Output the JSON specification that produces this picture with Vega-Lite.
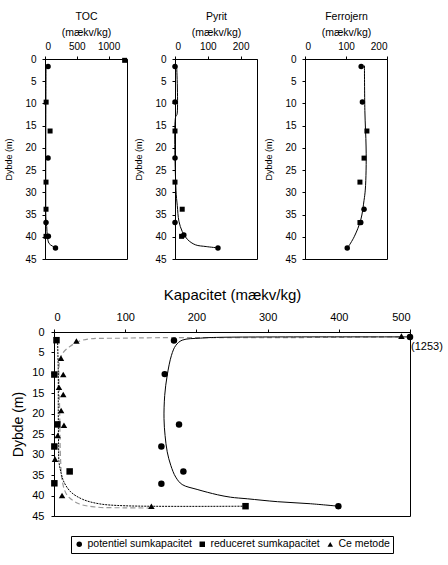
{
  "$schema": "https://vega.github.io/schema/vega-lite/v6.json",
  "padding": {"left": 4, "top": 10, "right": 2, "bottom": 2},
  "config": {
    "font": "Liberation Sans",
    "view": {"stroke": "black", "strokeWidth": 1},
    "axis": {
      "grid": false,
      "domainColor": "black",
      "tickColor": "black",
      "labelColor": "black",
      "titleColor": "black",
      "titleFontWeight": "normal",
      "labelFont": "Liberation Sans",
      "titleFont": "Liberation Sans"
    }
  },
  "datasets": {
    "topp": [
      {"analyse": "TOC", "dybde": 0.3, "v": 1253, "form": "firkant"},
      {"analyse": "TOC", "dybde": 1.7, "v": 48, "form": "cirkel"},
      {"analyse": "TOC", "dybde": 9.7, "v": 18, "form": "firkant"},
      {"analyse": "TOC", "dybde": 16.2, "v": 80, "form": "firkant"},
      {"analyse": "TOC", "dybde": 22.3, "v": 48, "form": "cirkel"},
      {"analyse": "TOC", "dybde": 27.7, "v": 16, "form": "firkant"},
      {"analyse": "TOC", "dybde": 33.8, "v": 16, "form": "firkant"},
      {"analyse": "TOC", "dybde": 36.8, "v": 16, "form": "cirkel"},
      {"analyse": "TOC", "dybde": 39.9, "v": 16, "form": "firkant"},
      {"analyse": "TOC", "dybde": 39.9, "v": 53, "form": "cirkel"},
      {"analyse": "TOC", "dybde": 42.5, "v": 165, "form": "cirkel"},
      {"analyse": "Pyrit", "dybde": 1.7, "v": 0, "form": "cirkel"},
      {"analyse": "Pyrit", "dybde": 9.7, "v": 0, "form": "cirkel"},
      {"analyse": "Pyrit", "dybde": 16.2, "v": 0, "form": "firkant"},
      {"analyse": "Pyrit", "dybde": 22.3, "v": 0, "form": "cirkel"},
      {"analyse": "Pyrit", "dybde": 27.7, "v": 0, "form": "firkant"},
      {"analyse": "Pyrit", "dybde": 33.8, "v": 22, "form": "firkant"},
      {"analyse": "Pyrit", "dybde": 36.8, "v": 0, "form": "cirkel"},
      {"analyse": "Pyrit", "dybde": 39.9, "v": 20, "form": "firkant"},
      {"analyse": "Pyrit", "dybde": 39.6, "v": 27, "form": "cirkel"},
      {"analyse": "Pyrit", "dybde": 42.5, "v": 131, "form": "cirkel"},
      {"analyse": "Ferrojern", "dybde": 1.7, "v": 137, "form": "cirkel"},
      {"analyse": "Ferrojern", "dybde": 9.7, "v": 140, "form": "cirkel"},
      {"analyse": "Ferrojern", "dybde": 16.2, "v": 151, "form": "firkant"},
      {"analyse": "Ferrojern", "dybde": 22.3, "v": 144, "form": "firkant"},
      {"analyse": "Ferrojern", "dybde": 27.7, "v": 134, "form": "firkant"},
      {"analyse": "Ferrojern", "dybde": 33.8, "v": 144, "form": "cirkel"},
      {"analyse": "Ferrojern", "dybde": 36.8, "v": 134, "form": "firkant"},
      {"analyse": "Ferrojern", "dybde": 36.8, "v": 136, "form": "cirkel"},
      {"analyse": "Ferrojern", "dybde": 42.5, "v": 103, "form": "cirkel"}
    ],
    "toppfit": [
      {"analyse": "TOC", "dybde": 1.3, "v": 16},
      {"analyse": "TOC", "dybde": 10, "v": 14},
      {"analyse": "TOC", "dybde": 20, "v": 12},
      {"analyse": "TOC", "dybde": 30, "v": 12},
      {"analyse": "TOC", "dybde": 36, "v": 15},
      {"analyse": "TOC", "dybde": 37.7, "v": 27},
      {"analyse": "TOC", "dybde": 39.9, "v": 37},
      {"analyse": "TOC", "dybde": 41.5, "v": 64},
      {"analyse": "TOC", "dybde": 42.1, "v": 117},
      {"analyse": "TOC", "dybde": 42.5, "v": 165},
      {"analyse": "Pyrit", "dybde": 1.5, "v": 5},
      {"analyse": "Pyrit", "dybde": 12.5, "v": 6},
      {"analyse": "Pyrit", "dybde": 13, "v": 2},
      {"analyse": "Pyrit", "dybde": 29.5, "v": 3},
      {"analyse": "Pyrit", "dybde": 33, "v": 7},
      {"analyse": "Pyrit", "dybde": 36.5, "v": 12},
      {"analyse": "Pyrit", "dybde": 38.8, "v": 22},
      {"analyse": "Pyrit", "dybde": 40.6, "v": 38},
      {"analyse": "Pyrit", "dybde": 41.8, "v": 62},
      {"analyse": "Pyrit", "dybde": 42.2, "v": 95},
      {"analyse": "Pyrit", "dybde": 42.5, "v": 131},
      {"analyse": "Ferrojern", "dybde": 1.5, "v": 145},
      {"analyse": "Ferrojern", "dybde": 11.6, "v": 146},
      {"analyse": "Ferrojern", "dybde": 19.8, "v": 149},
      {"analyse": "Ferrojern", "dybde": 25, "v": 149},
      {"analyse": "Ferrojern", "dybde": 29.5, "v": 147},
      {"analyse": "Ferrojern", "dybde": 31.8, "v": 144},
      {"analyse": "Ferrojern", "dybde": 36.2, "v": 136},
      {"analyse": "Ferrojern", "dybde": 40, "v": 120},
      {"analyse": "Ferrojern", "dybde": 42.2, "v": 106}
    ],
    "bund": [
      {"serie": "potentiel sumkapacitet", "dybde": 1.2, "v": 1253},
      {"serie": "potentiel sumkapacitet", "dybde": 2.1, "v": 168.5},
      {"serie": "potentiel sumkapacitet", "dybde": 10.3, "v": 155.5},
      {"serie": "potentiel sumkapacitet", "dybde": 22.6, "v": 175.6},
      {"serie": "potentiel sumkapacitet", "dybde": 28.0, "v": 150.8},
      {"serie": "potentiel sumkapacitet", "dybde": 34.1, "v": 181.7},
      {"serie": "potentiel sumkapacitet", "dybde": 37.1, "v": 150.8},
      {"serie": "potentiel sumkapacitet", "dybde": 42.6, "v": 399.4},
      {"serie": "reduceret sumkapacitet", "dybde": 2.0, "v": 3.5},
      {"serie": "reduceret sumkapacitet", "dybde": 10.4, "v": 0.5},
      {"serie": "reduceret sumkapacitet", "dybde": 22.6, "v": 4.7},
      {"serie": "reduceret sumkapacitet", "dybde": 28.0, "v": 0.5},
      {"serie": "reduceret sumkapacitet", "dybde": 34.1, "v": 22},
      {"serie": "reduceret sumkapacitet", "dybde": 37.0, "v": 0.5},
      {"serie": "reduceret sumkapacitet", "dybde": 42.6, "v": 269},
      {"serie": "Ce metode", "dybde": 1.0, "v": 488},
      {"serie": "Ce metode", "dybde": 2.2, "v": 31.5},
      {"serie": "Ce metode", "dybde": 6.4, "v": 9.8},
      {"serie": "Ce metode", "dybde": 10.4, "v": 13},
      {"serie": "Ce metode", "dybde": 13.5, "v": 7},
      {"serie": "Ce metode", "dybde": 15.3, "v": 13},
      {"serie": "Ce metode", "dybde": 19.2, "v": 10},
      {"serie": "Ce metode", "dybde": 22.8, "v": 14},
      {"serie": "Ce metode", "dybde": 25.3, "v": 5.2},
      {"serie": "Ce metode", "dybde": 31.1, "v": 1.4},
      {"serie": "Ce metode", "dybde": 40.0, "v": 11.3},
      {"serie": "Ce metode", "dybde": 42.6, "v": 136.8}
    ],
    "bundfit": [
      {"serie": "potentiel sumkapacitet", "dybde": 1.2, "v": 500},
      {"serie": "potentiel sumkapacitet", "dybde": 1.3, "v": 233},
      {"serie": "potentiel sumkapacitet", "dybde": 1.5, "v": 206},
      {"serie": "potentiel sumkapacitet", "dybde": 2.0, "v": 180},
      {"serie": "potentiel sumkapacitet", "dybde": 3.3, "v": 171},
      {"serie": "potentiel sumkapacitet", "dybde": 5.7, "v": 165},
      {"serie": "potentiel sumkapacitet", "dybde": 10.6, "v": 159},
      {"serie": "potentiel sumkapacitet", "dybde": 15.5, "v": 155.5},
      {"serie": "potentiel sumkapacitet", "dybde": 21.2, "v": 154.5},
      {"serie": "potentiel sumkapacitet", "dybde": 25.3, "v": 156},
      {"serie": "potentiel sumkapacitet", "dybde": 29.3, "v": 159},
      {"serie": "potentiel sumkapacitet", "dybde": 32.6, "v": 164},
      {"serie": "potentiel sumkapacitet", "dybde": 35.5, "v": 171},
      {"serie": "potentiel sumkapacitet", "dybde": 37.3, "v": 180},
      {"serie": "potentiel sumkapacitet", "dybde": 38.5, "v": 201},
      {"serie": "potentiel sumkapacitet", "dybde": 39.8, "v": 229.5},
      {"serie": "potentiel sumkapacitet", "dybde": 40.4, "v": 248},
      {"serie": "potentiel sumkapacitet", "dybde": 40.8, "v": 272},
      {"serie": "potentiel sumkapacitet", "dybde": 41.5, "v": 314},
      {"serie": "potentiel sumkapacitet", "dybde": 42.0, "v": 360},
      {"serie": "potentiel sumkapacitet", "dybde": 42.6, "v": 399.4},
      {"serie": "reduceret sumkapacitet", "dybde": 2.0, "v": 5},
      {"serie": "reduceret sumkapacitet", "dybde": 10, "v": 6},
      {"serie": "reduceret sumkapacitet", "dybde": 20, "v": 6},
      {"serie": "reduceret sumkapacitet", "dybde": 28, "v": 6.5},
      {"serie": "reduceret sumkapacitet", "dybde": 31.8, "v": 7},
      {"serie": "reduceret sumkapacitet", "dybde": 34.5, "v": 10},
      {"serie": "reduceret sumkapacitet", "dybde": 36.7, "v": 14},
      {"serie": "reduceret sumkapacitet", "dybde": 39.1, "v": 23.5},
      {"serie": "reduceret sumkapacitet", "dybde": 40.9, "v": 40},
      {"serie": "reduceret sumkapacitet", "dybde": 42.0, "v": 63},
      {"serie": "reduceret sumkapacitet", "dybde": 42.5, "v": 100},
      {"serie": "reduceret sumkapacitet", "dybde": 42.6, "v": 269},
      {"serie": "Ce metode", "dybde": 1.2, "v": 486},
      {"serie": "Ce metode", "dybde": 1.4, "v": 300},
      {"serie": "Ce metode", "dybde": 1.5, "v": 100},
      {"serie": "Ce metode", "dybde": 2.0, "v": 40},
      {"serie": "Ce metode", "dybde": 3.7, "v": 21},
      {"serie": "Ce metode", "dybde": 5.3, "v": 11.8},
      {"serie": "Ce metode", "dybde": 6.9, "v": 8},
      {"serie": "Ce metode", "dybde": 19.6, "v": 8},
      {"serie": "Ce metode", "dybde": 31.8, "v": 9.4},
      {"serie": "Ce metode", "dybde": 36.7, "v": 11.8},
      {"serie": "Ce metode", "dybde": 40.0, "v": 18.8},
      {"serie": "Ce metode", "dybde": 42.0, "v": 35},
      {"serie": "Ce metode", "dybde": 42.8, "v": 58.6},
      {"serie": "Ce metode", "dybde": 43.0, "v": 100},
      {"serie": "Ce metode", "dybde": 43.05, "v": 136.8}
    ]
  },
  "vconcat": [
    {
      "hconcat": [
        {
          "width": 82,
          "height": 200,
          "encoding": {
            "x": {"field": "v", "type": "quantitative", "scale": {"domain": [0, 1290], "nice": false},
              "axis": {"orient": "top", "values": [0, 500, 1000], "format": "d", "title": ["TOC", "(mækv/kg)"], "titleFontSize": 10.5, "titleLineHeight": 16, "titlePadding": 4, "labelFontSize": 10, "tickSize": 3, "labelPadding": 5}},
            "y": {"field": "dybde", "type": "quantitative", "scale": {"domain": [0, 45], "reverse": true, "nice": false},
              "axis": {"values": [0, 5, 10, 15, 20, 25, 30, 35, 40, 45], "title": "Dybde (m)", "titleFontSize": 9, "titlePadding": 11, "labelFontSize": 10, "tickSize": 3, "labelPadding": 6}}
          },
          "layer": [
            {"data": {"name": "toppfit"}, "transform": [{"filter": "datum.analyse == 'TOC'"}],
              "mark": {"type": "line", "color": "black", "strokeWidth": 1, "interpolate": "catmull-rom"},
              "encoding": {"order": {"field": "dybde", "type": "quantitative"}}},
            {"data": {"name": "topp"}, "transform": [{"filter": "datum.analyse == 'TOC' && datum.form == 'cirkel'"}],
              "mark": {"type": "point", "shape": "circle", "filled": true, "color": "black", "opacity": 1, "size": 30}},
            {"data": {"name": "topp"}, "transform": [{"filter": "datum.analyse == 'TOC' && datum.form == 'firkant'"}],
              "mark": {"type": "point", "shape": "square", "filled": true, "color": "black", "opacity": 1, "size": 25}}
          ]
        },
        {
          "width": 82,
          "height": 200,
          "encoding": {
            "x": {"field": "v", "type": "quantitative", "scale": {"domain": [0, 250], "nice": false},
              "axis": {"orient": "top", "values": [0, 100, 200], "title": ["Pyrit", "(mækv/kg)"], "titleFontSize": 10.5, "titleLineHeight": 16, "titlePadding": 4, "labelFontSize": 10, "tickSize": 3, "labelPadding": 5}},
            "y": {"field": "dybde", "type": "quantitative", "scale": {"domain": [0, 45], "reverse": true, "nice": false},
              "axis": {"values": [0, 5, 10, 15, 20, 25, 30, 35, 40, 45], "title": "Dybde (m)", "titleFontSize": 9, "titlePadding": 11, "labelFontSize": 10, "tickSize": 3, "labelPadding": 6}}
          },
          "layer": [
            {"data": {"name": "toppfit"}, "transform": [{"filter": "datum.analyse == 'Pyrit'"}],
              "mark": {"type": "line", "color": "black", "strokeWidth": 1, "interpolate": "catmull-rom"},
              "encoding": {"order": {"field": "dybde", "type": "quantitative"}}},
            {"data": {"name": "topp"}, "transform": [{"filter": "datum.analyse == 'Pyrit' && datum.form == 'cirkel'"}],
              "mark": {"type": "point", "shape": "circle", "filled": true, "color": "black", "opacity": 1, "size": 30}},
            {"data": {"name": "topp"}, "transform": [{"filter": "datum.analyse == 'Pyrit' && datum.form == 'firkant'"}],
              "mark": {"type": "point", "shape": "square", "filled": true, "color": "black", "opacity": 1, "size": 25}}
          ]
        },
        {
          "width": 82,
          "height": 200,
          "encoding": {
            "x": {"field": "v", "type": "quantitative", "scale": {"domain": [0, 200], "nice": false},
              "axis": {"orient": "top", "values": [0, 100, 200], "title": ["Ferrojern", "(mækv/kg)"], "titleFontSize": 10.5, "titleLineHeight": 16, "titlePadding": 4, "labelFontSize": 10, "tickSize": 3, "labelPadding": 5}},
            "y": {"field": "dybde", "type": "quantitative", "scale": {"domain": [0, 45], "reverse": true, "nice": false},
              "axis": {"values": [0, 5, 10, 15, 20, 25, 30, 35, 40, 45], "title": "Dybde (m)", "titleFontSize": 9, "titlePadding": 11, "labelFontSize": 10, "tickSize": 3, "labelPadding": 6}}
          },
          "layer": [
            {"data": {"name": "toppfit"}, "transform": [{"filter": "datum.analyse == 'Ferrojern'"}],
              "mark": {"type": "line", "color": "black", "strokeWidth": 1, "interpolate": "catmull-rom"},
              "encoding": {"order": {"field": "dybde", "type": "quantitative"}}},
            {"data": {"name": "topp"}, "transform": [{"filter": "datum.analyse == 'Ferrojern' && datum.form == 'cirkel'"}],
              "mark": {"type": "point", "shape": "circle", "filled": true, "color": "black", "opacity": 1, "size": 30}},
            {"data": {"name": "topp"}, "transform": [{"filter": "datum.analyse == 'Ferrojern' && datum.form == 'firkant'"}],
              "mark": {"type": "point", "shape": "square", "filled": true, "color": "black", "opacity": 1, "size": 25}}
          ]
        }
      ],
      "bounds": "flush",
      "spacing": 48
    },
    {
      "hconcat": [
        {
          "width": 1,
          "height": 1,
          "view": {"stroke": null},
          "data": {"values": [{}]},
          "mark": {"type": "text"},
          "encoding": {"text": {"value": ""}}
        },
        {
          "width": 356,
          "height": 184,
          "encoding": {
            "x": {"field": "v", "type": "quantitative", "scale": {"domain": [0, 500], "nice": false, "clamp": true},
              "axis": {"orient": "top", "values": [0, 100, 200, 300, 400, 500], "title": "Kapacitet (mækv/kg)", "titleFontSize": 15, "titlePadding": 9, "labelFontSize": 11, "tickSize": 3, "labelPadding": 7}},
            "y": {"field": "dybde", "type": "quantitative", "scale": {"domain": [0, 45], "reverse": true, "nice": false},
              "axis": {"values": [0, 5, 10, 15, 20, 25, 30, 35, 40, 45], "title": "Dybde (m)", "titleFontSize": 14, "titlePadding": 6, "labelFontSize": 11, "tickSize": 3, "labelPadding": 7}}
          },
          "layer": [
            {"data": {"name": "bundfit"}, "transform": [{"filter": "datum.serie == 'Ce metode'"}],
              "mark": {"type": "line", "color": "#999999", "strokeWidth": 1.2, "strokeDash": [5, 3], "interpolate": "catmull-rom"},
              "encoding": {"order": {"field": "dybde", "type": "quantitative"}}},
            {"data": {"name": "bundfit"}, "transform": [{"filter": "datum.serie == 'reduceret sumkapacitet'"}],
              "mark": {"type": "line", "color": "black", "strokeWidth": 1, "strokeDash": [2, 1], "interpolate": "catmull-rom"},
              "encoding": {"order": {"field": "dybde", "type": "quantitative"}}},
            {"data": {"name": "bundfit"}, "transform": [{"filter": "datum.serie == 'potentiel sumkapacitet'"}],
              "mark": {"type": "line", "color": "black", "strokeWidth": 1, "interpolate": "catmull-rom"},
              "encoding": {"order": {"field": "dybde", "type": "quantitative"}}},
            {"data": {"name": "bund"},
              "mark": {"type": "point", "filled": true, "color": "black", "opacity": 1, "size": 42},
              "encoding": {
                "shape": {"field": "serie", "type": "nominal",
                  "scale": {"domain": ["potentiel sumkapacitet", "reduceret sumkapacitet", "Ce metode"], "range": ["circle", "square", "triangle-up"]},
                  "legend": {"title": null, "orient": "none", "legendX": 17, "legendY": 204, "direction": "horizontal",
                    "labelFontSize": 10.5, "labelColor": "black", "labelFont": "Liberation Sans", "symbolSize": 30, "symbolFillColor": "black", "symbolStrokeColor": "black",
                    "strokeColor": "black", "padding": 3, "columnPadding": 4, "labelOffset": 3}}
              }},
            {"data": {"values": [{"v": 1253, "dybde": 1.2, "etiket": "(1253)"}]},
              "mark": {"type": "text", "align": "left", "baseline": "middle", "dx": 1, "dy": 10, "fontSize": 11, "color": "black"},
              "encoding": {"text": {"field": "etiket", "type": "nominal"}}}
          ]
        }
      ],
      "bounds": "flush",
      "spacing": 8,
      "resolve": {"scale": {"shape": "independent"}, "legend": {"shape": "independent"}}
    }
  ],
  "bounds": "flush",
  "spacing": 273,
  "resolve": {"scale": {"shape": "independent"}, "legend": {"shape": "independent"}}
}
